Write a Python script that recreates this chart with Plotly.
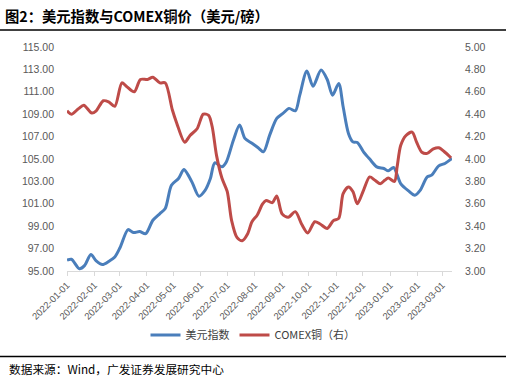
import plotly.graph_objects as go

# ---------------- data ----------------
usd_dates = [
    "2022-01-01", "2022-01-06", "2022-01-15", "2022-01-21", "2022-01-28", "2022-02-03",
    "2022-02-10", "2022-02-18", "2022-02-24", "2022-03-02", "2022-03-11", "2022-03-17",
    "2022-03-24", "2022-03-31", "2022-04-08", "2022-04-16", "2022-04-22", "2022-04-29",
    "2022-05-07", "2022-05-13", "2022-05-18", "2022-05-23", "2022-05-30", "2022-06-06",
    "2022-06-12", "2022-06-17", "2022-06-25", "2022-06-30", "2022-07-08", "2022-07-15",
    "2022-07-21", "2022-07-29", "2022-08-05", "2022-08-11", "2022-08-18", "2022-08-26",
    "2022-09-02", "2022-09-09", "2022-09-16", "2022-09-21", "2022-09-29", "2022-10-06",
    "2022-10-15", "2022-10-22", "2022-10-28", "2022-11-04", "2022-11-09", "2022-11-15",
    "2022-11-20", "2022-11-25", "2022-12-02", "2022-12-09", "2022-12-17", "2022-12-25",
    "2022-12-30", "2023-01-05", "2023-01-13", "2023-01-22", "2023-01-29", "2023-02-04",
    "2023-02-12", "2023-02-17", "2023-02-25", "2023-03-04", "2023-03-12",
]
usd_index = [
    95.96, 96.05, 95.20, 95.50, 96.47, 95.90,
    95.57, 95.90, 96.25, 97.10, 98.70, 98.43,
    98.52, 98.34, 99.53, 100.13, 100.58, 102.66,
    103.26, 104.06, 103.56, 102.80, 101.68, 102.20,
    103.26, 104.66, 104.30, 104.74, 106.68, 108.03,
    106.84, 106.40, 106.00, 105.64, 107.13, 108.62,
    109.07, 109.52, 109.30, 110.70, 112.85, 111.50,
    112.94, 112.10, 110.70, 111.75, 109.66, 107.28,
    106.53, 106.48, 105.64, 104.99, 104.30, 104.15,
    103.94, 104.24, 102.81, 102.15, 101.77, 102.20,
    103.40, 103.56, 104.39, 104.60, 105.05,
]

cu_dates = [
    "2022-01-01", "2022-01-06", "2022-01-14", "2022-01-20", "2022-01-29", "2022-02-03",
    "2022-02-11", "2022-02-17", "2022-02-24", "2022-03-04", "2022-03-09", "2022-03-18",
    "2022-03-25", "2022-04-02", "2022-04-08", "2022-04-16", "2022-04-22", "2022-04-30",
    "2022-05-05", "2022-05-14", "2022-05-20", "2022-05-28", "2022-06-04", "2022-06-10",
    "2022-06-14", "2022-06-19", "2022-06-25", "2022-07-01", "2022-07-06", "2022-07-12",
    "2022-07-18", "2022-07-24", "2022-07-29", "2022-08-04", "2022-08-10", "2022-08-14",
    "2022-08-21", "2022-08-26", "2022-09-01", "2022-09-08", "2022-09-16", "2022-09-23",
    "2022-09-30", "2022-10-08", "2022-10-14", "2022-10-22", "2022-10-29", "2022-11-04",
    "2022-11-09", "2022-11-15", "2022-11-20", "2022-11-25", "2022-12-02", "2022-12-09",
    "2022-12-15", "2022-12-21", "2022-12-26", "2022-12-30", "2023-01-06", "2023-01-09",
    "2023-01-13", "2023-01-19", "2023-01-26", "2023-01-31", "2023-02-06", "2023-02-12",
    "2023-02-19", "2023-02-25", "2023-03-04", "2023-03-11",
]
comex_copper = [
    4.43, 4.40, 4.45, 4.48, 4.41, 4.43,
    4.52, 4.51, 4.47, 4.68, 4.65, 4.60,
    4.71, 4.71, 4.73, 4.68, 4.68, 4.44,
    4.32, 4.15, 4.21, 4.27, 4.40, 4.39,
    4.29, 4.03, 3.83, 3.71, 3.45, 3.30,
    3.27, 3.33, 3.44, 3.50, 3.60, 3.63,
    3.61, 3.67, 3.51, 3.48, 3.53, 3.42,
    3.34, 3.44, 3.42, 3.38, 3.45, 3.47,
    3.69, 3.75, 3.71, 3.60, 3.72, 3.84,
    3.81, 3.78, 3.81, 3.83, 3.80, 3.93,
    4.12, 4.21, 4.24, 4.15, 4.06, 4.05,
    4.09, 4.10, 4.06, 4.01,
]

tick_dates = [
    "2022-01-01", "2022-02-01", "2022-03-01", "2022-04-01", "2022-05-01",
    "2022-06-01", "2022-07-01", "2022-08-01", "2022-09-01", "2022-10-01",
    "2022-11-01", "2022-12-01", "2023-01-01", "2023-02-01", "2023-03-01",
]
left_ticks = [95, 97, 99, 101, 103, 105, 107, 109, 111, 113, 115]
right_ticks = [3.0, 3.2, 3.4, 3.6, 3.8, 4.0, 4.2, 4.4, 4.6, 4.8, 5.0]

title_text = "图2：美元指数与COMEX铜价（美元/磅）"
source_text = "数据来源：Wind，广发证券发展研究中心"
name_usd = "美元指数"
name_cu = "COMEX铜（右）"

# ---------------- figure ----------------
W, H = 511, 385
ML, MR, MT, MB = 67, 59, 47, 114
pw = W - ML - MR
ph = H - MT - MB

BLUE = "#4a7ebb"
RED = "#be4b48"
FONT = "Liberation Sans, Arial, Noto Sans CJK SC, sans-serif"
CJK = "Noto Sans CJK SC, sans-serif"

fig = go.Figure()
fig.add_trace(go.Scatter(
    x=usd_dates, y=usd_index, name=name_usd, mode="lines",
    line=dict(color=BLUE, width=3, shape="spline", smoothing=0.8),
    yaxis="y",
))
fig.add_trace(go.Scatter(
    x=cu_dates, y=comex_copper, name=name_cu, mode="lines",
    line=dict(color=RED, width=3, shape="spline", smoothing=0.8),
    yaxis="y2",
))

def px_x(px):
    return (px - ML) / pw

def px_y(py):
    return (H - MB - py) / ph

fig.update_layout(
    width=W, height=H,
    margin=dict(l=ML, r=MR, t=MT, b=MB, pad=0),
    paper_bgcolor="white", plot_bgcolor="white",
    showlegend=True,
    legend=dict(
        orientation="h", x=px_x(253), xanchor="center", y=px_y(335), yanchor="middle",
        font=dict(family=CJK, size=11, color="#404040"),
        itemwidth=30, tracegroupgap=0, bgcolor="rgba(0,0,0,0)",
    ),
    xaxis=dict(
        type="date", range=["2022-01-01", "2023-03-12"],
        tickvals=tick_dates, ticktext=tick_dates, tickangle=-45,
        tickfont=dict(family=FONT, size=9.5, color="#595959"),
        showgrid=False, zeroline=False,
        showline=True, linecolor="#d9d9d9", linewidth=1,
        ticks="outside", ticklen=4, tickcolor="#d9d9d9",
    ),
    yaxis=dict(
        range=[95, 115], tickvals=left_ticks,
        ticktext=[f"{v:.2f}" for v in left_ticks],
        tickfont=dict(family=FONT, size=10.5, color="#595959"),
        showgrid=False, zeroline=False, showline=False, ticks="",
        ticklabelstandoff=12,
    ),
    yaxis2=dict(
        range=[3.0, 5.0], tickvals=right_ticks,
        ticktext=[f"{v:.2f}" for v in right_ticks],
        tickfont=dict(family=FONT, size=10.5, color="#595959"),
        overlaying="y", side="right",
        showgrid=False, zeroline=False, showline=False, ticks="",
        ticklabelstandoff=12,
    ),
    annotations=[
        dict(text="<b>" + title_text + "</b>", xref="paper", yref="paper",
             x=px_x(3), y=px_y(15), xanchor="left", yanchor="middle",
             showarrow=False, font=dict(family=CJK, size=14.3, color="#000000")),
        dict(text=source_text, xref="paper", yref="paper",
             x=px_x(7), y=px_y(368), xanchor="left", yanchor="middle",
             showarrow=False, font=dict(family=CJK, size=11.7, color="#000000")),
    ],
    shapes=[
        dict(type="line", xref="paper", yref="paper",
             x0=px_x(0), x1=px_x(506), y0=px_y(30), y1=px_y(30),
             line=dict(color="#000000", width=1.5)),
        dict(type="line", xref="paper", yref="paper",
             x0=px_x(0), x1=px_x(506), y0=px_y(356.5), y1=px_y(356.5),
             line=dict(color="#000000", width=1.5)),
    ],
)

fig.write_html(
    "out.html",
    config={"displayModeBar": False},
    post_script="document.body.style.margin='0';document.body.style.overflow='hidden';",
)
